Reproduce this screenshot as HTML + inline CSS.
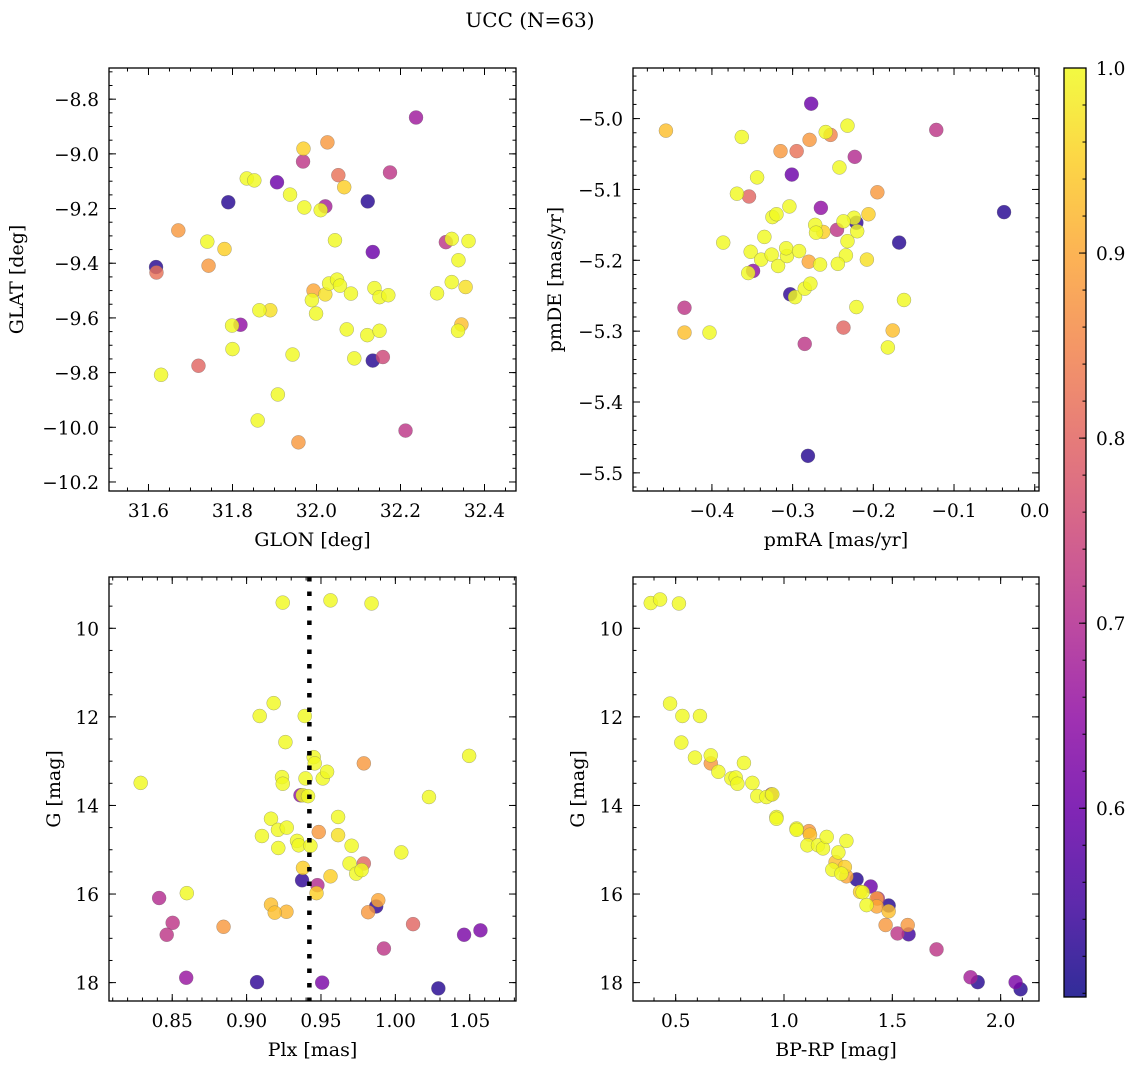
<!DOCTYPE html>
<html><head><meta charset="utf-8">
<style>
html,body{margin:0;padding:0;background:#fff;}
svg{display:block;font-family:"DejaVu Serif","Liberation Serif",serif;}
</style></head>
<body>
<svg id="fig" width="1136" height="1067" viewBox="0 0 1136 1067" xmlns="http://www.w3.org/2000/svg">
<text x="530" y="27" font-size="20" text-anchor="middle">UCC (N=63)</text>
</svg>
<script>
// ---------- Panel 1: GLON vs GLAT ----------
const glon = [31.618,31.619,31.671,31.740,31.781,31.743,31.790,31.834,31.852,31.906,31.937,31.799,31.819,31.864,31.890,31.800,31.719,31.630,31.943,31.908,31.860,31.957,31.969,31.968,32.026,32.052,32.066,32.237,32.175,32.122,31.971,32.021,32.010,32.044,32.134,32.308,32.322,32.362,32.338,32.322,32.355,32.287,31.993,31.989,32.021,32.030,32.049,32.056,32.082,31.999,32.138,32.150,32.171,32.072,32.121,32.150,32.345,32.337,32.090,32.134,32.158,32.212];
const glat = [-9.414,-9.434,-9.280,-9.321,-9.348,-9.409,-9.177,-9.090,-9.097,-9.104,-9.149,-9.628,-9.625,-9.572,-9.572,-9.714,-9.775,-9.808,-9.734,-9.880,-9.975,-10.055,-8.981,-9.028,-8.958,-9.078,-9.122,-8.867,-9.068,-9.174,-9.196,-9.192,-9.206,-9.316,-9.359,-9.323,-9.311,-9.319,-9.389,-9.469,-9.487,-9.510,-9.500,-9.535,-9.514,-9.474,-9.460,-9.482,-9.511,-9.584,-9.491,-9.524,-9.517,-9.642,-9.663,-9.647,-9.624,-9.647,-9.748,-9.756,-9.743,-10.012];
const prob1 = [0.52,0.82,0.88,1,0.95,0.88,0.52,1,1,0.6,1,1,0.65,1,0.97,1,0.8,1,1,1,1,0.88,0.95,0.72,0.88,0.82,0.95,0.67,0.72,0.52,1,0.68,1,1,0.6,0.72,1,1,1,1,0.97,1,0.9,1,0.97,1,1,1,1,1,1,1,1,1,1,1,0.93,1,1,0.52,0.75,0.72];
// ---------- Panel 2: pmRA vs pmDE ----------
const pmra = [-0.457,-0.363,-0.344,-0.369,-0.354,-0.315,-0.295,-0.277,-0.279,-0.301,-0.304,-0.325,-0.320,-0.386,-0.335,-0.352,-0.339,-0.326,-0.318,-0.307,-0.308,-0.292,-0.280,-0.349,-0.355,-0.303,-0.297,-0.285,-0.278,-0.434,-0.434,-0.403,-0.285,-0.281,-0.259,-0.253,-0.232,-0.122,-0.223,-0.242,-0.195,-0.265,-0.038,-0.206,-0.224,-0.221,-0.237,-0.220,-0.245,-0.272,-0.271,-0.262,-0.232,-0.168,-0.234,-0.244,-0.266,-0.208,-0.162,-0.221,-0.237,-0.176,-0.182];
const pmde = [-5.017,-5.026,-5.083,-5.106,-5.110,-5.046,-5.046,-4.979,-5.030,-5.079,-5.124,-5.139,-5.135,-5.175,-5.167,-5.188,-5.199,-5.192,-5.208,-5.194,-5.183,-5.187,-5.202,-5.215,-5.218,-5.248,-5.252,-5.240,-5.233,-5.267,-5.302,-5.302,-5.318,-5.476,-5.019,-5.023,-5.010,-5.016,-5.054,-5.069,-5.104,-5.126,-5.132,-5.135,-5.140,-5.147,-5.145,-5.159,-5.157,-5.150,-5.161,-5.160,-5.173,-5.175,-5.193,-5.205,-5.206,-5.199,-5.256,-5.266,-5.295,-5.299,-5.323];
const prob2 = [0.93,1,1,1,0.8,0.88,0.82,0.6,0.88,0.6,1,1,1,1,1,1,1,1,1,1,1,1,0.9,0.65,1,0.53,1,1,1,0.72,0.93,1,0.72,0.52,1,0.85,1,0.72,0.7,1,0.88,0.65,0.52,0.95,1,0.53,1,1,0.72,1,1,0.95,1,0.52,1,1,1,0.97,1,1,0.8,0.93,1];
// ---------- Panel 3: Plx vs G ----------
const plx = [0.8288,0.8412,0.8503,0.8463,0.8598,0.8594,0.8845,0.9070,0.9243,0.9182,0.9088,0.9261,0.9238,0.9243,0.9164,0.9211,0.9270,0.9103,0.9213,0.9164,0.9189,0.9268,0.9391,0.9451,0.9458,0.9396,0.9362,0.9377,0.9413,0.9512,0.9541,0.9339,0.9350,0.9429,0.9485,0.9379,0.9373,0.9476,0.9470,0.9564,0.9508,0.9564,0.9615,0.9615,0.9840,0.9788,1.0496,1.0226,0.9706,1.0040,0.9692,0.9788,0.9737,0.9773,0.9885,0.9871,0.9817,1.0119,0.9923,1.0462,1.0572,1.0289];
const gmag3 = [13.49,16.09,16.65,16.92,15.98,17.89,16.74,17.99,9.42,11.69,11.98,12.57,13.36,13.51,14.30,14.55,14.50,14.69,14.96,16.24,16.42,16.40,11.98,12.91,13.05,13.39,13.77,13.77,13.79,13.39,13.24,14.80,14.90,14.91,14.60,15.41,15.69,15.80,15.98,15.60,18.00,9.37,14.26,14.67,9.44,13.05,12.88,13.81,14.91,15.06,15.31,15.31,15.54,15.46,16.14,16.28,16.41,16.68,17.23,16.92,16.82,18.13];
const prob3 = [1,0.7,0.72,0.72,1,0.66,0.88,0.53,1,1,1,1,1,1,1,1,1,1,1,0.93,0.93,0.92,1,1,1,1,0.65,1,1,1,1,1,1,1,0.88,0.95,0.53,0.7,0.95,0.95,0.62,1,1,0.97,1,0.88,1,1,1,1,1,0.8,1,1,0.9,0.53,0.88,0.8,0.72,0.62,0.62,0.52];
const plxRef = [0.9422];
// ---------- Panel 4: BP-RP vs G ----------
const bprp = [0.385,0.428,0.515,0.474,0.531,0.612,0.526,0.589,0.662,0.662,0.697,0.815,0.757,0.777,0.785,0.854,0.877,0.919,0.942,0.946,0.965,0.965,1.058,1.058,1.115,1.120,1.108,1.157,1.180,1.197,1.288,1.251,1.238,1.223,1.265,1.281,1.288,1.335,1.351,1.363,1.400,1.381,1.483,1.483,1.469,1.524,1.575,1.571,1.704,1.861,1.894,2.069,2.092,1.428,1.428,1.433];
const gmag4 = [9.43,9.35,9.44,11.70,11.98,11.98,12.58,12.92,12.87,13.05,13.24,13.04,13.39,13.37,13.51,13.49,13.79,13.81,13.75,13.75,14.26,14.30,14.52,14.55,14.58,14.66,14.90,14.90,14.97,14.71,14.80,15.06,15.28,15.45,15.54,15.39,15.60,15.67,15.95,15.96,15.83,16.25,16.26,16.39,16.70,16.89,16.91,16.70,17.25,17.88,17.99,17.99,18.15,16.10,16.28,16.10];
const prob4 = [1,1,1,1,1,1,1,1,1,0.88,1,1,1,1,1,1,1,1,0.7,1,1,1,1,1,0.88,0.93,1,1,1,1,1,1,0.93,1,1,0.95,0.9,0.52,0.95,1,0.6,1,0.52,0.93,0.88,0.72,0.55,0.88,0.72,0.68,0.52,0.62,0.52,0.88,0.9,0.7];
// ---------- Colorbar ----------
const cbTicks = [0.6,0.7,0.8,0.9,1.0];
const cbRange = [0.498,1.0];

const TF = 18.5, LF = 19;
const NS = "http://www.w3.org/2000/svg";
const svg = document.getElementById('fig');
function el(tag, attrs, parent){
  const e = document.createElementNS(NS, tag);
  for (const k in attrs) e.setAttribute(k, attrs[k]);
  (parent||svg).appendChild(e);
  return e;
}
const stops = ["#0d0887","#41049d","#6a00a8","#8f0da4","#b12a90","#cc4778","#e16462","#f2844b","#fca636","#fcce25","#f0f921"];
function hex(h){return [parseInt(h.substr(1,2),16),parseInt(h.substr(3,2),16),parseInt(h.substr(5,2),16)];}
function plasma(t){
  t=Math.max(0,Math.min(1,t));
  const f=t*10, i=Math.min(9,Math.floor(f)), r=f-i;
  const a=hex(stops[i]), b=hex(stops[i+1]);
  return "rgb("+a.map((v,j)=>Math.round(v+(b[j]-v)*r)).join(",")+")";
}
function cnorm(v){return (v-cbRange[0])/(cbRange[1]-cbRange[0]);}
function fmt(v,d){const s=Math.abs(v).toFixed(d);return (v<-1e-9?"\u2212":"")+s;}

function panel(cfg){
  const {L,R,T,B,xlim,ylim,xMaj,xMin,yMaj,yMin,xd,yd,xlabel,ylabel,name,ylabX} = cfg;
  const g = el('g',{});
  
  
  const sx = v => L + (v - xlim[0])/(xlim[1]-xlim[0])*(R-L);
  const sy = v => B - (v - ylim[0])/(ylim[1]-ylim[0])*(B-T);
  cfg.sx=sx; cfg.sy=sy; cfg.g=g;
  const clip = el('clipPath',{id:name+'-clip'},g);
  el('rect',{x:L,y:T,width:R-L,height:B-T},clip);
  const marks = el('g',{'clip-path':'url(#'+name+'-clip)'},g);
  
  
  cfg.marks = marks;
  const tg = el('g',{stroke:'#000','stroke-width':1},g);
  function ticks(step,lim){const out=[];const a=Math.ceil(Math.min(...lim)/step-1e-6),b=Math.floor(Math.max(...lim)/step+1e-6);for(let i=a;i<=b;i++)out.push(+(i*step).toFixed(6));return out;}
  ticks(xMin,xlim).forEach(v=>{const x=sx(v);el('line',{x1:x,x2:x,y1:B,y2:B-3.5},tg);el('line',{x1:x,x2:x,y1:T,y2:T+3.5},tg);});
  ticks(yMin,ylim).forEach(v=>{const y=sy(v);el('line',{x1:L,x2:L+3.5,y1:y,y2:y},tg);el('line',{x1:R,x2:R-3.5,y1:y,y2:y},tg);});
  ticks(xMaj,xlim).forEach(v=>{const x=sx(v);el('line',{x1:x,x2:x,y1:B,y2:B-7},tg);el('line',{x1:x,x2:x,y1:T,y2:T+7},tg);
    const t=el('text',{x:x,y:B+26,'font-size':TF,'text-anchor':'middle'},g);t.textContent=fmt(v,xd);
    
    });
  ticks(yMaj,ylim).forEach(v=>{const y=sy(v);el('line',{x1:L,x2:L+7,y1:y,y2:y},tg);el('line',{x1:R,x2:R-7,y1:y,y2:y},tg);
    const t=el('text',{x:L-10,y:y+7,'font-size':TF,'text-anchor':'end'},g);t.textContent=fmt(v,yd);
    
    });
  const fr = el('rect',{x:L,y:T,width:R-L,height:B-T,fill:'none',stroke:'#000','stroke-width':1.3},g);
  
  
  const xl = el('text',{x:(L+R)/2,y:B+55,'font-size':LF,'text-anchor':'middle'},g);xl.textContent=xlabel;
  
  
  const yc=(T+B)/2;
  const yl = el('text',{x:ylabX,y:yc,'font-size':LF,'text-anchor':'middle',transform:'rotate(-90 '+ylabX+' '+yc+')'},g);yl.textContent=ylabel;
  
  
  return cfg;
}
function scatter(p,xs,ys,cs){
  const idx = xs.map((_,i)=>i).sort((a,b)=>cs[a]-cs[b]);
  idx.forEach(i=>{
    const c = el('circle',{cx:p.sx(xs[i]),cy:p.sy(ys[i]),r:7,fill:plasma(cnorm(cs[i])),'fill-opacity':0.82,stroke:'#666','stroke-opacity':0.55,'stroke-width':0.5},p.marks);
    
    
  });
}

const p1 = panel({name:'glon-glat-panel',L:109,R:516,T:68,B:491,xlim:[31.506,32.475],ylim:[-10.233,-8.686],xMaj:0.2,xMin:0.05,yMaj:0.2,yMin:0.05,xd:1,yd:1,xlabel:'GLON [deg]',ylabel:'GLAT [deg]',ylabX:23});
scatter(p1,glon,glat,prob1);
const p2 = panel({name:'pm-panel',L:633,R:1039,T:68,B:491,xlim:[-0.4978,0.0053],ylim:[-5.5256,-4.9286],xMaj:0.1,xMin:0.02,yMaj:0.1,yMin:0.02,xd:1,yd:1,xlabel:'pmRA [mas/yr]',ylabel:'pmDE [mas/yr]',ylabX:561});
scatter(p2,pmra,pmde,prob2);
const p3 = panel({name:'plx-g-panel',L:109,R:516,T:577,B:1001,xlim:[0.8075,1.0811],ylim:[18.415,8.842],xMaj:0.05,xMin:0.01,yMaj:2,yMin:0.5,xd:2,yd:0,xlabel:'Plx [mas]',ylabel:'G [mag]',ylabX:60});
scatter(p3,plx,gmag3,prob3);
plxRef.forEach(v=>{
  const ln = el('line',{x1:p3.sx(v),x2:p3.sx(v),y1:577,y2:1001,stroke:'#000','stroke-width':4.5,'stroke-dasharray':'4.5 10'},p3.marks);
  
  
});
const p4 = panel({name:'cmd-panel',L:633,R:1039,T:577,B:1001,xlim:[0.303,2.177],ylim:[18.415,8.842],xMaj:0.5,xMin:0.1,yMaj:2,yMin:0.5,xd:1,yd:0,xlabel:'BP-RP [mag]',ylabel:'G [mag]',ylabX:584});
scatter(p4,bprp,gmag4,prob4);

// colorbar
const cb = el('g',{});


const CL=1064,CR=1086,CT=68,CB=997;
const grad = el('linearGradient',{id:'cbgrad',x1:0,y1:1,x2:0,y2:0},cb);
for(let i=0;i<=20;i++){const v=cbRange[0]+(cbRange[1]-cbRange[0])*i/20;el('stop',{offset:(i/20),'stop-color':plasma(cnorm(v)),'stop-opacity':0.85},grad);}
el('rect',{x:CL,y:CT,width:CR-CL,height:CB-CT,fill:'url(#cbgrad)'},cb);
const cy = v => CB - (v-cbRange[0])/(cbRange[1]-cbRange[0])*(CB-CT);
for(let v=0.5;v<=1.0001;v+=0.02){if(v<cbRange[0])continue;el('line',{x1:CR,x2:CR-3.5,y1:cy(v),y2:cy(v),stroke:'#000','stroke-width':1},cb);}
cbTicks.forEach(v=>{
  el('line',{x1:CR,x2:CR-7,y1:cy(v),y2:cy(v),stroke:'#000','stroke-width':1},cb);
  const t=el('text',{x:CR+10,y:cy(v)+7,'font-size':TF},cb);t.textContent=v.toFixed(1);
  
  
});
el('rect',{x:CL,y:CT,width:CR-CL,height:CB-CT,fill:'none',stroke:'#000','stroke-width':1.3},cb);
</script>
</body></html>
